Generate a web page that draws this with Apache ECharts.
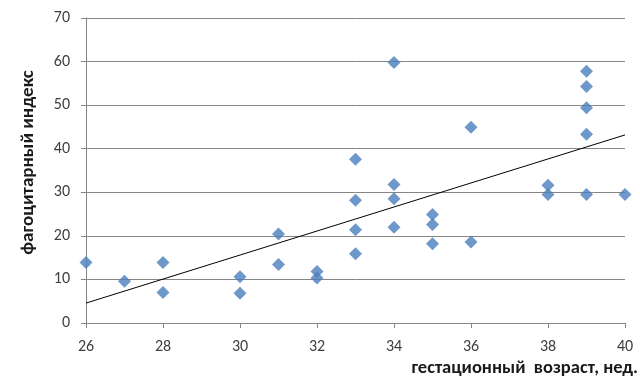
<!DOCTYPE html>
<html>
<head>
<meta charset="utf-8">
<script src="https://cdn.jsdelivr.net/npm/echarts@6/dist/echarts.min.js"></script>
<style>
html,body{margin:0;padding:0;background:#fff;}
#c{width:640px;height:378px;}
</style>
</head>
<body>
<div id="c"></div>
<script>
// gestational age (weeks)
var ages = [26,27,28,28,30,30,31,31,32,32,33,33,33,33,34,34,34,34,35,35,35,36,36,38,38,39,39,39,39,39,40];
// phagocytic index
var index = [13.9,9.6,13.9,7.0,10.6,6.8,20.4,13.4,11.8,10.3,37.6,28.2,21.4,15.9,59.8,31.8,28.5,22.0,24.9,22.6,18.2,44.9,18.6,31.6,29.5,57.8,54.3,49.4,43.3,29.5,29.5];
var xTicks = [26,28,30,32,34,36,38,40];
var yTicks = [0,10,20,30,40,50,60,70];
var xName = 'гестационный  возраст, нед.';
var yName = 'фагоцитарный индекс';

var pts = ages.map(function(a,i){return [a,index[i]];});
// least-squares linear trend
var n = ages.length, sx=0, sy=0, sxx=0, sxy=0;
for (var i=0;i<n;i++){sx+=ages[i];sy+=index[i];sxx+=ages[i]*ages[i];sxy+=ages[i]*index[i];}
var slope=(n*sxy-sx*sy)/(n*sxx-sx*sx);
var icpt=(sy-slope*sx)/n;
var x0=xTicks[0], x1=xTicks[xTicks.length-1];
var trend=[[x0,icpt+slope*x0],[x1,icpt+slope*x1]];

var font = 'Carlito, "Liberation Sans", sans-serif';
var chart = echarts.init(document.getElementById('c'));
chart.setOption({
  animation:false,
  grid:{left:86,right:15,top:18,bottom:55},
  xAxis:{
    type:'value', min:x0, max:x1, interval:2,
    axisLine:{show:true,lineStyle:{color:'#868686',width:1}},
    axisTick:{show:true,length:5,lineStyle:{color:'#868686'}},
    axisLabel:{color:'#404040',fontFamily:font,fontSize:16,margin:16},
    splitLine:{show:false}
  },
  yAxis:{
    type:'value', min:yTicks[0], max:yTicks[yTicks.length-1], interval:10,
    name:yName, nameLocation:'middle', nameGap:48,
    nameTextStyle:{color:'#1a1a1a',fontFamily:font,fontSize:19,fontWeight:'bold',padding:[0,0,0,16]},
    axisLine:{show:true,lineStyle:{color:'#868686',width:1}},
    axisTick:{show:true,length:5,lineStyle:{color:'#868686'}},
    axisLabel:{color:'#404040',fontFamily:font,fontSize:16,margin:16},
    splitLine:{show:true,lineStyle:{color:'#868686',width:1}}
  },
  graphic:[{
    type:'text', right:2, top:359,
    style:{text:xName, fill:'#1a1a1a', font:'bold 18.5px '+font}
  }],
  series:[{
    type:'scatter', data:pts, symbol:'diamond', symbolSize:13,
    itemStyle:{color:'#4A7EBB'}, z:3
  },{
    type:'line', data:trend, showSymbol:false, symbol:'none',
    lineStyle:{color:'#000',width:1}, z:2
  }]
});
</script>
</body>
</html>
